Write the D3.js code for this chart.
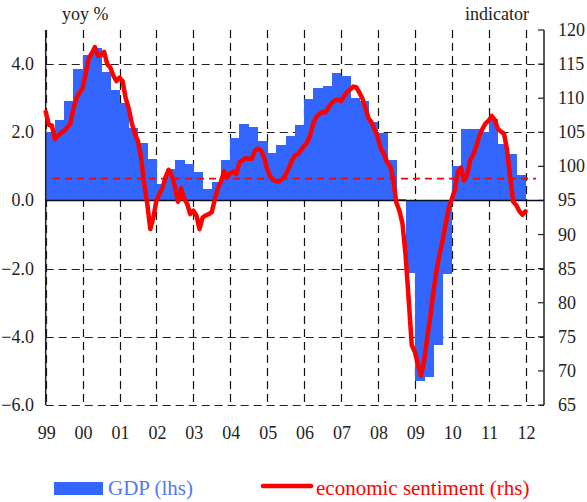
<!DOCTYPE html>
<html>
<head>
<meta charset="utf-8">
<script src="https://cdn.jsdelivr.net/npm/d3@7"></script>
<style>
  body { margin: 0; background: #fff; }
  svg { display: block; font-family: 'Liberation Serif', 'Times New Roman', serif; }
</style>
</head>
<body>
<svg id="chart" width="587" height="502"></svg>
<script>
// euro area GDP, yoy %, quarterly from 1999 Q1
let gdpStart = 1999;
let gdpValues = [
  2.0, 2.36, 2.92, 3.85,
  4.26, 4.47, 3.77, 3.24,
  2.87, 2.12, 1.70, 1.23,
  0.47, 0.93, 1.18, 1.06,
  0.84, 0.35, 0.54, 1.20,
  1.82, 2.24, 2.15, 1.74,
  1.38, 1.64, 1.89, 2.20,
  2.97, 3.31, 3.35, 3.75,
  3.66, 3.02, 2.92, 2.31,
  1.99, 1.18, 0.05, -2.13,
  -5.31, -5.17, -4.24, -2.15,
  1.01, 2.11, 2.09, 2.00,
  2.38, 1.65, 1.35, 0.74
];

// economic sentiment indicator, monthly from Jan 1999
let esiStart = 1999;
let esiValues = [
  108.0, 106.1, 106.0, 104.0, 104.5, 104.9, 105.2, 105.7, 106.3, 108.4, 110.0, 110.8,
  111.5, 113.6, 115.8, 116.6, 117.5, 116.2, 116.3, 116.8, 115.0, 114.5, 113.3, 112.5,
  113.0, 112.5, 110.0, 108.5, 106.3, 104.8, 103.7, 101.3, 97.5, 94.6, 90.8, 92.5,
  95.0, 96.0, 96.9, 98.5, 99.5, 98.7, 97.0, 94.8, 96.8, 95.3, 94.5, 93.0,
  93.5, 92.8, 90.8, 92.5, 92.8, 93.0, 93.3, 95.2, 96.8, 97.8, 99.3, 98.4,
  99.0, 99.2, 98.9, 100.6, 100.9, 101.2, 101.1, 101.1, 102.3, 102.6, 102.3, 101.3,
  99.6, 98.5, 98.0, 97.8, 97.8, 98.2, 98.8, 99.7, 100.8, 101.6, 101.8, 102.4,
  103.0, 103.5, 104.6, 106.3, 107.3, 107.7, 108.0, 107.9, 108.7, 109.3, 109.7, 109.8,
  109.6, 110.3, 110.9, 111.3, 111.7, 111.6, 110.8, 109.9, 108.5, 107.0, 106.4, 105.3,
  104.2, 102.5, 101.8, 100.6, 100.0, 98.0, 94.7, 93.5, 91.6, 87.0, 80.5, 73.8,
  72.8, 71.0, 69.3, 71.3, 74.8, 77.8, 81.5, 84.5, 87.0, 89.0, 91.5, 93.8,
  95.2, 96.5, 99.2, 99.8, 97.9, 98.7, 100.9, 101.7, 103.0, 104.5, 105.5, 106.3,
  106.7, 107.4, 106.8, 105.5, 105.1, 104.8, 102.4, 98.4, 94.8, 94.3, 93.4, 92.9,
  93.4
];

// long-term average of the indicator (dashed line)
let esiAverage = 98.2;

let yearTicks = d3.range(1999, 2013);
let leftTicks = [-6, -4, -2, 0, 2, 4];
let rightTicks = d3.range(65, 121, 5);

let svg = d3.select('#chart');

let plotLeft = 45.7, plotRight = 544, plotTop = 30, plotBottom = 405;

let x = d3.scaleLinear().domain([1999, 2012.5]).range([plotLeft, plotRight]);
let yL = d3.scaleLinear().domain([-6, 5]).range([plotBottom, plotTop]);
let yR = d3.scaleLinear().domain([65, 120]).range([plotBottom, plotTop]);

let gdp = gdpValues.map((v, i) => ({ t: gdpStart + i / 4, v: v }));
let esi = esiValues.map((v, i) => ({ t: esiStart + i / 12, v: v }));

let grid = svg.append('g').attr('class', 'grid');
let bars = svg.append('g').attr('class', 'bars');
let axes = svg.append('g').attr('class', 'axes');
let lines = svg.append('g').attr('class', 'lines');
let labels = svg.append('g').attr('class', 'labels');

/*
  grid
*/
grid.selectAll('.vgrid')
  .data(yearTicks)
  .enter().append('line')
  .attr('x1', (d) => Math.round(x(d)) + 0.5)
  .attr('x2', (d) => Math.round(x(d)) + 0.5)
  .attr('y1', plotTop)
  .attr('y2', plotBottom)
  .attr('stroke', '#111')
  .attr('stroke-width', 1.2)
  .attr('stroke-dasharray', '8,5');

grid.selectAll('.hgrid')
  .data(leftTicks.filter((d) => d !== 0))
  .enter().append('line')
  .attr('x1', plotLeft)
  .attr('x2', plotRight)
  .attr('y1', (d) => Math.round(yL(d)) + 0.5)
  .attr('y2', (d) => Math.round(yL(d)) + 0.5)
  .attr('stroke', '#222')
  .attr('stroke-width', 1.2)
  .attr('stroke-dasharray', '8,5');

/*
  GDP bars
*/
bars.selectAll('rect')
  .data(gdp)
  .enter().append('rect')
  .attr('x', (d) => x(d.t))
  .attr('width', (d) => x(d.t + 0.25) - x(d.t) + 0.5)
  .attr('y', (d) => Math.min(yL(d.v), yL(0)))
  .attr('height', (d) => Math.abs(yL(d.v) - yL(0)))
  .attr('shape-rendering', 'crispEdges')
  .attr('fill', '#3366ff');

/*
  axes
*/
axes.append('line')
  .attr('x1', plotLeft).attr('x2', plotLeft)
  .attr('y1', plotTop).attr('y2', plotBottom)
  .attr('stroke', '#222').attr('stroke-width', 1.5);

axes.append('line')
  .attr('x1', plotRight).attr('x2', plotRight)
  .attr('y1', plotTop).attr('y2', plotBottom)
  .attr('stroke', '#222').attr('stroke-width', 1.5);

axes.selectAll('.rtick')
  .data(rightTicks)
  .enter().append('line')
  .attr('x1', plotRight - 6).attr('x2', plotRight)
  .attr('y1', (d) => yR(d)).attr('y2', (d) => yR(d))
  .attr('stroke', '#222').attr('stroke-width', 1.2);

axes.append('line')
  .attr('x1', plotLeft).attr('x2', plotRight)
  .attr('y1', yL(0)).attr('y2', yL(0))
  .attr('stroke', '#0a0a20').attr('stroke-width', 1.5);

/*
  sentiment lines
*/
lines.append('line')
  .attr('x1', 53).attr('x2', 536)
  .attr('y1', yR(esiAverage)).attr('y2', yR(esiAverage))
  .attr('stroke', '#ff0000')
  .attr('stroke-width', 1.8)
  .attr('stroke-dasharray', '7,5');

let esiLine = d3.line()
  .x((d) => x(d.t))
  .y((d) => yR(d.v));

lines.append('path')
  .datum(esi)
  .attr('d', esiLine)
  .attr('fill', 'none')
  .attr('stroke', '#ff0000')
  .attr('stroke-width', 4.5)
  .attr('stroke-linejoin', 'round')
  .attr('stroke-linecap', 'round');

/*
  labels
*/
labels.selectAll('.ll')
  .data(leftTicks)
  .enter().append('text')
  .attr('x', 34)
  .attr('y', (d) => yL(d) + 6)
  .style('text-anchor', 'end')
  .style('font-size', '18px')
  .attr('fill', '#222')
  .text((d) => d3.format('.1f')(d));

labels.selectAll('.rl')
  .data(rightTicks)
  .enter().append('text')
  .attr('x', 558)
  .attr('y', (d) => yR(d) + 6)
  .style('font-size', '18px')
  .attr('fill', '#222')
  .text((d) => d);

labels.selectAll('.xl')
  .data(yearTicks)
  .enter().append('text')
  .attr('x', (d) => x(d) + 1)
  .attr('y', 439)
  .style('text-anchor', 'middle')
  .style('font-size', '18px')
  .attr('fill', '#222')
  .text((d) => String(d % 100).padStart(2, '0'));

labels.append('text')
  .attr('x', 62).attr('y', 20)
  .style('font-size', '18px')
  .attr('fill', '#222')
  .text('yoy %');

labels.append('text')
  .attr('x', 529).attr('y', 20)
  .style('text-anchor', 'end')
  .style('font-size', '18px')
  .attr('fill', '#222')
  .text('indicator');

/*
  legend
*/
let legend = svg.append('g').attr('class', 'legend');

legend.append('rect')
  .attr('x', 54).attr('y', 482)
  .attr('width', 49).attr('height', 13)
  .attr('fill', '#3366ff');

legend.append('text')
  .attr('x', 108).attr('y', 495)
  .style('font-size', '21px')
  .attr('fill', '#5577f2')
  .text('GDP (lhs)');

legend.append('line')
  .attr('x1', 263).attr('x2', 311)
  .attr('y1', 486).attr('y2', 486)
  .attr('stroke', '#ff0000')
  .attr('stroke-width', 4.5)
  .attr('stroke-linecap', 'round');

legend.append('text')
  .attr('x', 316).attr('y', 495)
  .style('font-size', '21px')
  .attr('fill', '#ff0000')
  .text('economic sentiment (rhs)');
</script>
</body>
</html>
